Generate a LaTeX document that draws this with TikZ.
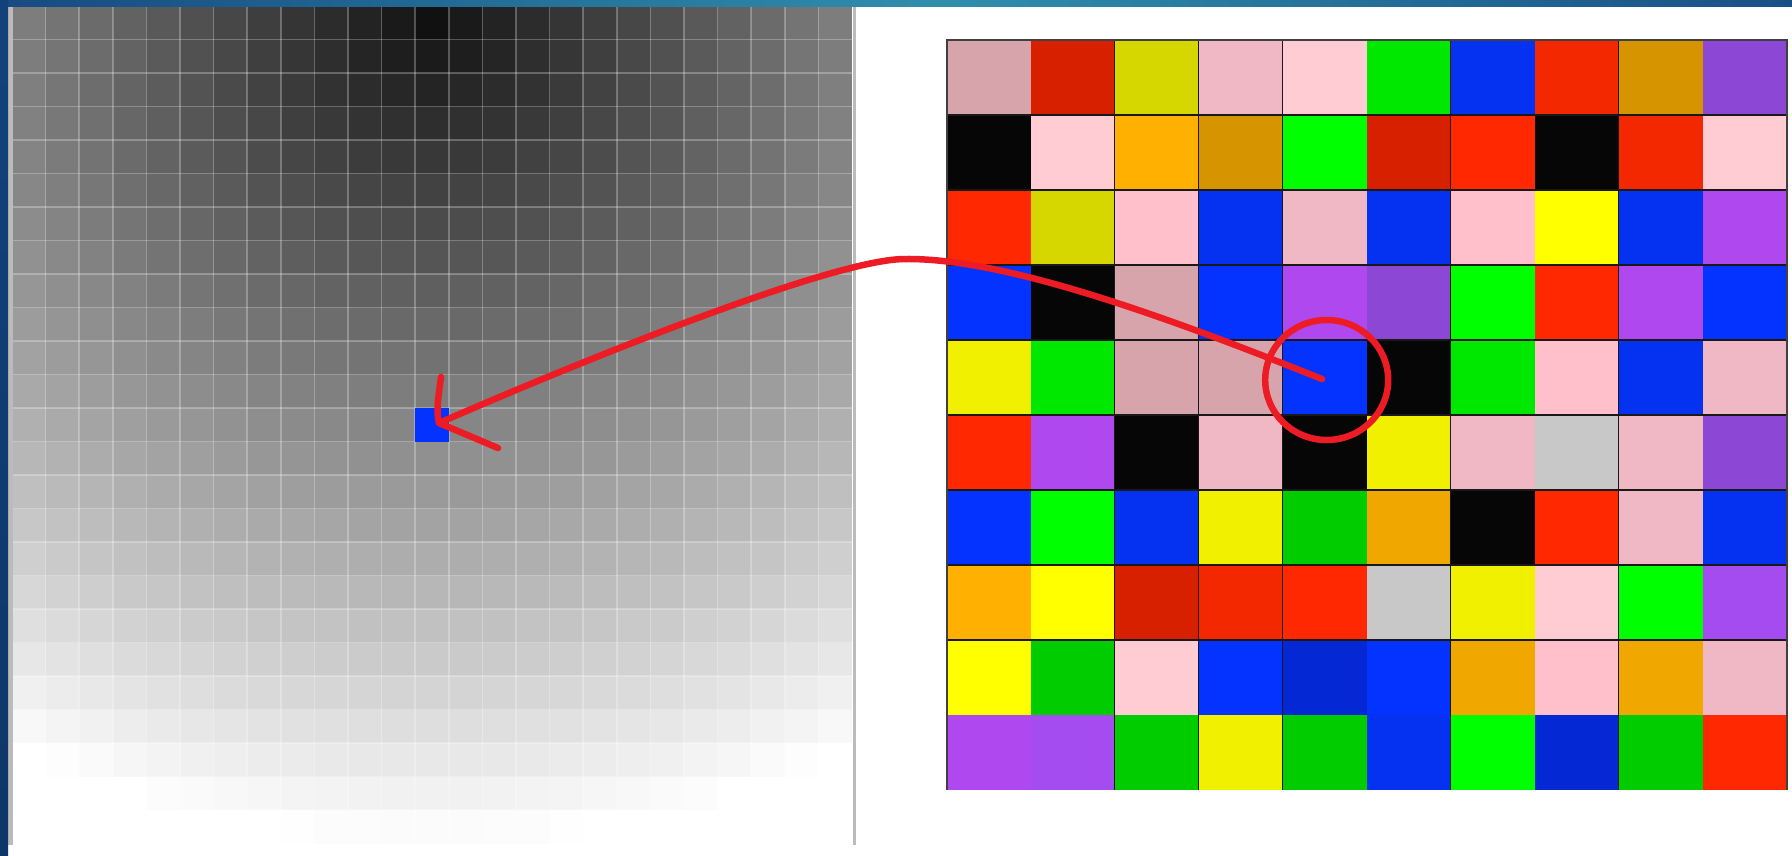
\documentclass[tikz,border=0pt]{standalone}
\usepackage{tikz}
\usetikzlibrary{shapes.geometric}

% paint and frame colours
\definecolor{paintred}{HTML}{ED1C24}
\definecolor{frameA}{HTML}{174A82}
\definecolor{frameB}{HTML}{2F8FAB}
\definecolor{frameC}{HTML}{1A4F86}
\definecolor{sideA}{HTML}{13427B}
\definecolor{sideB}{HTML}{0E3668}
\definecolor{edgegray}{HTML}{BBBBBB}
% palette of the colour table
\definecolor{dpink}{HTML}{D8A4AC}
\definecolor{dred}{HTML}{D62000}
\definecolor{olive}{HTML}{D6D600}
\definecolor{lpink}{HTML}{F0B8C4}
\definecolor{ppink}{HTML}{FFCCD4}
\definecolor{pink}{HTML}{FFC0CC}
\definecolor{grn}{HTML}{00E800}
\definecolor{lime}{HTML}{00FF00}
\definecolor{green2}{HTML}{00CC00}
\definecolor{blueA}{HTML}{0432F0}
\definecolor{blueB}{HTML}{0432FF}
\definecolor{dblue}{HTML}{0428D4}
\definecolor{redA}{HTML}{FF2800}
\definecolor{redB}{HTML}{F42800}
\definecolor{dorange}{HTML}{D69400}
\definecolor{orange}{HTML}{FFB000}
\definecolor{amber}{HTML}{F0A800}
\definecolor{yelA}{HTML}{FFFF00}
\definecolor{yelB}{HTML}{F0F000}
\definecolor{purp}{HTML}{8C48D4}
\definecolor{violet}{HTML}{B048F0}
\definecolor{violet2}{HTML}{A44CF0}
\definecolor{blk}{HTML}{060606}
\definecolor{silver}{HTML}{C8C8C8}

\begin{document}
\begin{tikzpicture}[x=1pt, y=-1pt,
  paint/.style={draw=paintred, line width=6.5pt, line cap=round, line join=round},
  ring/.style={draw=paintred, line width=6.5pt, ellipse, inner sep=0pt},
  gridwhite/.style={draw=white, opacity=0.27, line width=1.6pt},
  cellline/.style={draw=black!90, line width=1.5pt},
  pixel/.style={fill=blueB, minimum width=33.6pt, minimum height=33.5pt, inner sep=0pt}]

\fill[white] (0,0) rectangle (1792,855);
\useasboundingbox (0,0) rectangle (1792,855);

% Gray ramp
\foreach \i in {0,...,24}
  \foreach \j in {0,...,24} {
    \pgfmathsetmacro\gv{min(255,17+10*veclen(0.9*(\i-12),0.975*\j))/255}
    \definecolor{cellgray}{gray}{\gv}
    \fill[cellgray] (12+33.6*\i,6+33.5*\j) rectangle ++(33.7,33.6);
  }
\foreach \k in {1,...,24} {
  \draw[gridwhite] (12+33.6*\k,6) -- (12+33.6*\k,843.5);
  \draw[gridwhite] (12,6+33.5*\k) -- (852,6+33.5*\k);
}
\fill[edgegray] (8,6) rectangle (13,845);
\fill[edgegray] (852.5,6) rectangle (856,845);

\node[pixel] (pix) at (432,424.75) {};

% Colour table
\foreach \rw [count=\r from 0] in {%
  {dpink,dred,olive,lpink,ppink,grn,blueA,redB,dorange,purp},%
  {blk,ppink,orange,dorange,lime,dred,redA,blk,redB,ppink},%
  {redA,olive,pink,blueA,lpink,blueA,pink,yelA,blueA,violet},%
  {blueB,blk,dpink,blueB,violet,purp,lime,redA,violet,blueB},%
  {yelB,grn,dpink,dpink,blueB,blk,grn,pink,blueA,lpink},%
  {redA,violet,blk,lpink,blk,yelB,lpink,silver,lpink,purp},%
  {blueB,lime,blueA,yelB,green2,amber,blk,redA,lpink,blueA},%
  {orange,yelA,dred,redB,redA,silver,yelB,ppink,lime,violet2},%
  {yelA,green2,ppink,blueB,dblue,blueB,amber,pink,amber,lpink},%
  {violet,violet2,green2,yelB,green2,blueA,lime,dblue,green2,redA}}{
  \foreach \cl [count=\c from 0] in \rw
    \fill[\cl] (946.7+84*\c,40+75*\r) rectangle ++(84.2,75.2);
}
\foreach \k in {2,3,4,6,8}
  \draw[cellline] (946.7+84*\k,40) -- (946.7+84*\k,790);
\foreach \k in {1,...,8}
  \draw[cellline] (946.7,40+75*\k) -- (1786.7,40+75*\k);
\draw[black!75, line width=2pt] (946.7,790) -- (946.7,40) -- (1786.7,40) -- (1786.7,790);

% Frame strips
\shade[left color=frameA, right color=frameB] (0,0) rectangle (940,6);
\shade[left color=frameB, right color=frameC] (940,0) rectangle (1792,6);
\shade[top color=sideA, bottom color=sideB] (0,0) rectangle (8,855);

% Circle and arrow
\node[ring, minimum width=123pt, minimum height=120pt] (ring) at (1326.7,380) {};
\coordinate (src) at (1322,379);
\coordinate (crest) at (905,259);
\coordinate (tip) at (439,423);
\coordinate (barbup) at (441,377);
\coordinate (barbdown) at (498,448);
\draw[paint] (src) .. controls (1150,310) and (1000,258) .. (crest)
  .. controls (830,259) and (560,370) .. (tip);
\draw[paint] (barbup) .. controls (438,400) and (436,410) .. (tip) -- (barbdown);

\end{tikzpicture}
\end{document}
